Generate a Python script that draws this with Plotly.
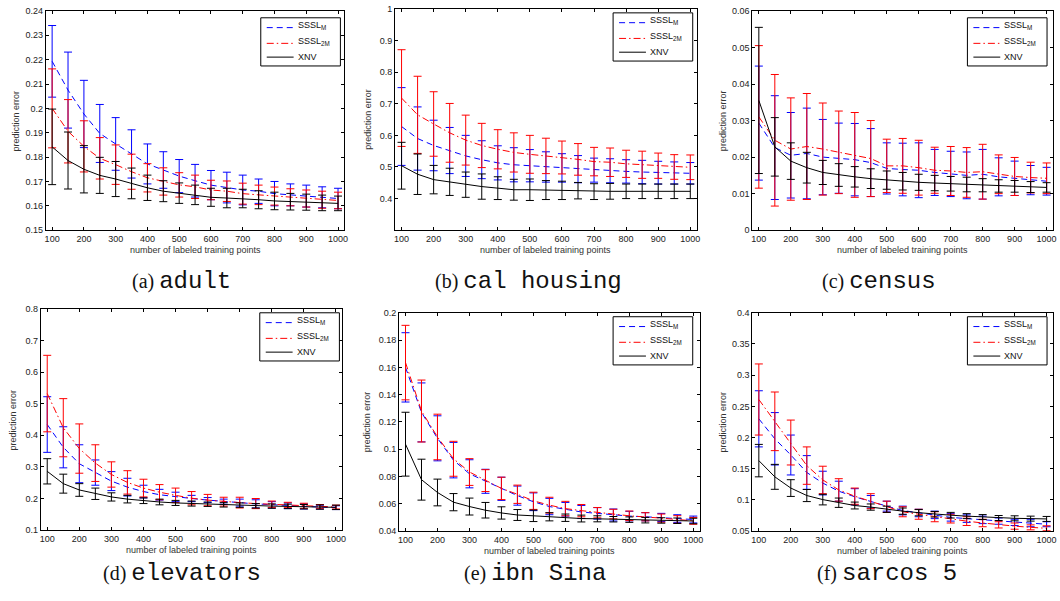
import plotly.graph_objects as go

# ---------------- data ----------------
n_labeled = [100, 150, 200, 250, 300, 350, 400, 450, 500, 550, 600, 650, 700, 750, 800, 850, 900, 950, 1000]
x_tick_vals = [100, 200, 300, 400, 500, 600, 700, 800, 900, 1000]
x_tick_text = ["100", "200", "300", "400", "500", "600", "700", "800", "900", "1000"]

series_names = ["SSSL<sub>M</sub>", "SSSL<sub>2M</sub>", "XNV"]

# (a) adult
adult_sssl_m = [0.2193, 0.2075, 0.1977, 0.1897, 0.1854, 0.1813, 0.1772, 0.1747, 0.1722, 0.1703, 0.1685, 0.1675, 0.1665, 0.1660, 0.1650, 0.1645, 0.1640, 0.1635, 0.1630]
adult_sssl_m_err = [0.0147, 0.0156, 0.0138, 0.0119, 0.0108, 0.0099, 0.0082, 0.0075, 0.0068, 0.0067, 0.0060, 0.0063, 0.0061, 0.0050, 0.0050, 0.0045, 0.0045, 0.0043, 0.0042]
adult_sssl_2m = [0.2000, 0.1906, 0.1844, 0.1795, 0.1769, 0.1740, 0.1715, 0.1700, 0.1686, 0.1678, 0.1665, 0.1660, 0.1650, 0.1645, 0.1640, 0.1635, 0.1630, 0.1625, 0.1622]
adult_sssl_2m_err = [0.0162, 0.0130, 0.0105, 0.0085, 0.0081, 0.0072, 0.0058, 0.0056, 0.0050, 0.0048, 0.0040, 0.0042, 0.0043, 0.0040, 0.0037, 0.0035, 0.0035, 0.0035, 0.0034]
adult_xnv = [0.1842, 0.1786, 0.1750, 0.1725, 0.1710, 0.1692, 0.1674, 0.1660, 0.1652, 0.1645, 0.1635, 0.1632, 0.1630, 0.1625, 0.1620, 0.1617, 0.1615, 0.1612, 0.1610]
adult_xnv_err = [0.0155, 0.0117, 0.0097, 0.0074, 0.0072, 0.0063, 0.0052, 0.0043, 0.0042, 0.0040, 0.0037, 0.0040, 0.0038, 0.0037, 0.0036, 0.0034, 0.0033, 0.0032, 0.0030]
adult_y_ticks = [0.15, 0.16, 0.17, 0.18, 0.19, 0.20, 0.21, 0.22, 0.23, 0.24]
adult_y_text = ["0.15", "0.16", "0.17", "0.18", "0.19", "0.2", "0.21", "0.22", "0.23", "0.24"]

# (b) cal housing
cal_sssl_m = [0.628, 0.590, 0.568, 0.552, 0.535, 0.523, 0.513, 0.507, 0.504, 0.500, 0.497, 0.493, 0.490, 0.488, 0.486, 0.484, 0.482, 0.481, 0.480]
cal_sssl_m_err = [0.123, 0.100, 0.080, 0.073, 0.065, 0.060, 0.054, 0.054, 0.051, 0.048, 0.045, 0.043, 0.038, 0.038, 0.037, 0.037, 0.036, 0.035, 0.034]
cal_sssl_2m = [0.718, 0.665, 0.636, 0.608, 0.585, 0.568, 0.556, 0.546, 0.540, 0.535, 0.530, 0.524, 0.517, 0.515, 0.510, 0.507, 0.504, 0.500, 0.499]
cal_sssl_2m_err = [0.153, 0.122, 0.102, 0.093, 0.079, 0.070, 0.062, 0.062, 0.060, 0.056, 0.052, 0.050, 0.045, 0.045, 0.043, 0.043, 0.040, 0.039, 0.039]
cal_xnv = [0.504, 0.477, 0.460, 0.453, 0.444, 0.438, 0.433, 0.428, 0.428, 0.427, 0.426, 0.425, 0.422, 0.423, 0.423, 0.423, 0.423, 0.423, 0.423]
cal_xnv_err = [0.074, 0.064, 0.045, 0.043, 0.040, 0.040, 0.036, 0.033, 0.034, 0.030, 0.029, 0.026, 0.025, 0.025, 0.023, 0.023, 0.023, 0.023, 0.023]
cal_y_ticks = [0.4, 0.5, 0.6, 0.7, 0.8, 0.9, 1.0]
cal_y_text = ["0.4", "0.5", "0.6", "0.7", "0.8", "0.9", "1"]

# (c) census
census_sssl_m = [0.0293, 0.0226, 0.0205, 0.0210, 0.0200, 0.0197, 0.0193, 0.0185, 0.0169, 0.0166, 0.0164, 0.0158, 0.0154, 0.0150, 0.0153, 0.0146, 0.0142, 0.0137, 0.0134]
census_sssl_m_err = [0.0156, 0.0142, 0.0117, 0.0124, 0.0103, 0.0096, 0.0099, 0.0093, 0.0070, 0.0072, 0.0075, 0.0063, 0.0062, 0.0064, 0.0068, 0.0052, 0.0047, 0.0040, 0.0038]
census_sssl_2m = [0.0310, 0.0246, 0.0222, 0.0229, 0.0222, 0.0213, 0.0206, 0.0196, 0.0176, 0.0176, 0.0171, 0.0164, 0.0162, 0.0158, 0.0160, 0.0153, 0.0147, 0.0144, 0.0142]
census_sssl_2m_err = [0.0195, 0.0180, 0.0140, 0.0145, 0.0126, 0.0113, 0.0116, 0.0104, 0.0073, 0.0075, 0.0075, 0.0063, 0.0067, 0.0068, 0.0075, 0.0053, 0.0052, 0.0042, 0.0042]
census_xnv = [0.0355, 0.0228, 0.0189, 0.0171, 0.0158, 0.0151, 0.0146, 0.0141, 0.0137, 0.0134, 0.0131, 0.0129, 0.0127, 0.0125, 0.0123, 0.0121, 0.0120, 0.0118, 0.0117]
census_xnv_err = [0.0200, 0.0080, 0.0050, 0.0042, 0.0033, 0.0031, 0.0028, 0.0027, 0.0025, 0.0024, 0.0022, 0.0021, 0.0020, 0.0020, 0.0018, 0.0017, 0.0016, 0.0015, 0.0013]
census_y_ticks = [0.0, 0.01, 0.02, 0.03, 0.04, 0.05, 0.06]
census_y_text = ["0", "0.01", "0.02", "0.03", "0.04", "0.05", "0.06"]

# (d) elevators
elev_sssl_m = [0.434, 0.362, 0.310, 0.282, 0.255, 0.236, 0.222, 0.212, 0.205, 0.200, 0.195, 0.190, 0.187, 0.183, 0.180, 0.177, 0.175, 0.173, 0.171]
elev_sssl_m_err = [0.088, 0.065, 0.060, 0.040, 0.030, 0.028, 0.020, 0.017, 0.015, 0.010, 0.008, 0.008, 0.011, 0.013, 0.010, 0.009, 0.008, 0.006, 0.006]
elev_sssl_2m = [0.532, 0.424, 0.358, 0.312, 0.276, 0.251, 0.233, 0.220, 0.210, 0.201, 0.195, 0.190, 0.187, 0.184, 0.182, 0.180, 0.177, 0.175, 0.173]
elev_sssl_2m_err = [0.121, 0.092, 0.078, 0.058, 0.040, 0.037, 0.028, 0.024, 0.023, 0.021, 0.018, 0.014, 0.017, 0.016, 0.010, 0.008, 0.008, 0.006, 0.006]
elev_xnv = [0.286, 0.247, 0.227, 0.215, 0.205, 0.198, 0.193, 0.189, 0.186, 0.184, 0.182, 0.180, 0.179, 0.177, 0.176, 0.175, 0.174, 0.173, 0.172]
elev_xnv_err = [0.040, 0.030, 0.020, 0.018, 0.013, 0.012, 0.009, 0.009, 0.008, 0.008, 0.007, 0.007, 0.007, 0.007, 0.007, 0.007, 0.007, 0.007, 0.007]
elev_y_ticks = [0.1, 0.2, 0.3, 0.4, 0.5, 0.6, 0.7, 0.8]
elev_y_text = ["0.1", "0.2", "0.3", "0.4", "0.5", "0.6", "0.7", "0.8"]

# (e) ibn Sina
ibn_sssl_m = [0.160, 0.127, 0.108, 0.092, 0.082, 0.0765, 0.071, 0.066, 0.0615, 0.058, 0.056, 0.054, 0.053, 0.0518, 0.051, 0.0505, 0.050, 0.0492, 0.0485]
ibn_sssl_m_err = [0.0254, 0.0216, 0.0165, 0.0130, 0.0103, 0.0088, 0.0085, 0.0070, 0.0065, 0.0060, 0.0050, 0.0048, 0.0042, 0.0044, 0.0035, 0.0030, 0.0030, 0.0028, 0.0025]
ibn_sssl_2m = [0.1635, 0.128, 0.109, 0.093, 0.0833, 0.077, 0.0713, 0.067, 0.0622, 0.059, 0.0565, 0.055, 0.0535, 0.0525, 0.0512, 0.0505, 0.0495, 0.0485, 0.0475]
ibn_sssl_2m_err = [0.0273, 0.0227, 0.0167, 0.0128, 0.0098, 0.0080, 0.0082, 0.0067, 0.0063, 0.0058, 0.0053, 0.0045, 0.0038, 0.0035, 0.0035, 0.0030, 0.0030, 0.0028, 0.0025]
ibn_xnv = [0.1037, 0.0777, 0.0683, 0.0612, 0.058, 0.0553, 0.0533, 0.0518, 0.0512, 0.0505, 0.0498, 0.0492, 0.049, 0.0487, 0.0484, 0.048, 0.0478, 0.0476, 0.0474]
ibn_xnv_err = [0.0234, 0.0150, 0.0098, 0.0063, 0.0062, 0.0057, 0.0045, 0.0040, 0.0042, 0.0030, 0.0027, 0.0025, 0.0022, 0.0020, 0.0020, 0.0020, 0.0020, 0.0020, 0.0020]
ibn_y_ticks = [0.04, 0.06, 0.08, 0.10, 0.12, 0.14, 0.16, 0.18, 0.20]
ibn_y_text = ["0.04", "0.06", "0.08", "0.1", "0.12", "0.14", "0.16", "0.18", "0.2"]

# (f) sarcos 5
sarcos_sssl_m = [0.230, 0.198, 0.172, 0.144, 0.127, 0.114, 0.105, 0.097, 0.090, 0.083, 0.079, 0.076, 0.072, 0.070, 0.068, 0.066, 0.064, 0.063, 0.061]
sarcos_sssl_m_err = [0.045, 0.042, 0.032, 0.027, 0.019, 0.016, 0.013, 0.010, 0.008, 0.007, 0.006, 0.006, 0.006, 0.006, 0.006, 0.005, 0.005, 0.006, 0.004]
sarcos_sssl_2m = [0.261, 0.226, 0.192, 0.155, 0.132, 0.116, 0.106, 0.098, 0.089, 0.081, 0.077, 0.073, 0.070, 0.066, 0.063, 0.060, 0.058, 0.056, 0.0545]
sarcos_sssl_2m_err = [0.057, 0.047, 0.036, 0.030, 0.022, 0.018, 0.013, 0.012, 0.009, 0.008, 0.008, 0.008, 0.007, 0.007, 0.006, 0.005, 0.005, 0.004, 0.004]
sarcos_xnv = [0.163, 0.137, 0.119, 0.107, 0.1005, 0.0955, 0.091, 0.0885, 0.085, 0.082, 0.0795, 0.077, 0.0755, 0.074, 0.0725, 0.071, 0.0705, 0.070, 0.0695]
sarcos_xnv_err = [0.026, 0.020, 0.0134, 0.0097, 0.0085, 0.0075, 0.0055, 0.005, 0.005, 0.005, 0.005, 0.0045, 0.0045, 0.004, 0.004, 0.004, 0.004, 0.004, 0.004]
sarcos_y_ticks = [0.05, 0.10, 0.15, 0.20, 0.25, 0.30, 0.35, 0.40]
sarcos_y_text = ["0.05", "0.1", "0.15", "0.2", "0.25", "0.3", "0.35", "0.4"]

panel_letters = ["(a)", "(b)", "(c)", "(d)", "(e)", "(f)"]
panel_names = ["adult", "cal housing", "census", "elevators", "ibn Sina", "sarcos 5"]

# ---------------- layout geometry (pixels) ----------------
W, H = 1060, 601
# plot area boxes: left, right, top, bottom
boxes = [
    (45, 345, 6, 229),
    (396, 699, 4, 229),
    (755, 1057, 6, 229),
    (40, 343, 309, 534),
    (400, 702, 313, 535),
    (755, 1057, 313, 535),
]
y_ranges = [(0.15, 0.24), (0.3, 1.0), (0.0, 0.06), (0.1, 0.8), (0.04, 0.2), (0.05, 0.4)]
legend_boxes = [(341, 13), (695, 8), (1051, 13), (340, 313), (695, 317), (1051, 317)]  # right, top
caption_pos = [(181, 281), (530, 281), (882, 281), (182, 578), (537, 578), (890, 578)]
ytitle_x = [15, 368, 725, 13, 368, 725]
LEG_W, LEG_H = 80, 49
leg_line_dy = [10, 26, 40]
leg_text_dy = [8, 24, 40]

panels = [
    (adult_sssl_m, adult_sssl_m_err, adult_sssl_2m, adult_sssl_2m_err, adult_xnv, adult_xnv_err, adult_y_ticks, adult_y_text),
    (cal_sssl_m, cal_sssl_m_err, cal_sssl_2m, cal_sssl_2m_err, cal_xnv, cal_xnv_err, cal_y_ticks, cal_y_text),
    (census_sssl_m, census_sssl_m_err, census_sssl_2m, census_sssl_2m_err, census_xnv, census_xnv_err, census_y_ticks, census_y_text),
    (elev_sssl_m, elev_sssl_m_err, elev_sssl_2m, elev_sssl_2m_err, elev_xnv, elev_xnv_err, elev_y_ticks, elev_y_text),
    (ibn_sssl_m, ibn_sssl_m_err, ibn_sssl_2m, ibn_sssl_2m_err, ibn_xnv, ibn_xnv_err, ibn_y_ticks, ibn_y_text),
    (sarcos_sssl_m, sarcos_sssl_m_err, sarcos_sssl_2m, sarcos_sssl_2m_err, sarcos_xnv, sarcos_xnv_err, sarcos_y_ticks, sarcos_y_text),
]

colors = ["#0000ff", "#ff0000", "#000000"]
dashes = ["6px,4px", "7px,3px,1.5px,3px", "solid"]

SANS = "Liberation Sans, Arial, Helvetica, sans-serif"


def px(xp):
    return xp / W


def py(yp):
    return 1 - yp / H


fig = go.Figure()
layout = dict(
    width=W, height=H,
    margin=dict(l=0, r=0, t=0, b=0),
    paper_bgcolor="white", plot_bgcolor="white",
    showlegend=False,
    font=dict(family=SANS, size=9, color="#222"),
)
annotations = []
shapes = []

for i, p in enumerate(panels):
    k = i + 1
    xs = "" if k == 1 else str(k)
    means = [p[0], p[2], p[4]]
    errs = [p[1], p[3], p[5]]
    for j in range(3):
        fig.add_trace(go.Scatter(
            x=n_labeled, y=means[j], mode="lines", name=series_names[j],
            line=dict(color=colors[j], width=1, dash=dashes[j]),
            error_y=dict(type="data", array=errs[j], visible=True,
                         color=colors[j], thickness=1, width=4),
            xaxis="x" + xs, yaxis="y" + xs,
        ))
    l, r, t, b = boxes[i]
    layout["xaxis" + xs] = dict(
        domain=[px(l), px(r)], anchor="y" + xs, range=[80, 1020],
        tickvals=x_tick_vals, ticktext=x_tick_text,
        ticks="inside", ticklen=3, tickwidth=1, tickcolor="black",
        showline=True, linecolor="black", linewidth=1, mirror="ticks",
        showgrid=False, zeroline=False,
        tickfont=dict(family=SANS, size=9, color="#222"),
    )
    layout["yaxis" + xs] = dict(
        domain=[py(b), py(t)], anchor="x" + xs, range=list(y_ranges[i]),
        tickvals=p[6], ticktext=p[7],
        ticks="inside", ticklen=3, tickwidth=1, tickcolor="black",
        showline=True, linecolor="black", linewidth=1, mirror="ticks",
        showgrid=False, zeroline=False,
        tickfont=dict(family=SANS, size=9, color="#222"),
    )
    # legend box (drawn in paper space)
    lr, lt = legend_boxes[i]
    ll = lr - LEG_W
    shapes.append(dict(type="rect", xref="paper", yref="paper", layer="above",
                       x0=px(ll), x1=px(lr), y0=py(lt + LEG_H), y1=py(lt),
                       line=dict(color="black", width=1), fillcolor="white"))
    for j in range(3):
        yy = lt + leg_line_dy[j]
        shapes.append(dict(type="line", xref="paper", yref="paper", layer="above",
                           x0=px(ll + 6), x1=px(ll + 33), y0=py(yy), y1=py(yy),
                           line=dict(color=colors[j], width=1, dash=dashes[j])))
        annotations.append(dict(
            x=px(ll + 35), y=py(lt + leg_text_dy[j]), xref="paper", yref="paper",
            text=series_names[j], showarrow=False, xanchor="left", yanchor="middle",
            font=dict(family=SANS, size=9, color="#111"),
        ))
    # axis titles
    annotations.append(dict(
        x=px((l + r) / 2), y=py(b + 20), xref="paper", yref="paper",
        text="number of labeled training points", showarrow=False,
        font=dict(family=SANS, size=9, color="#333"), xanchor="center", yanchor="middle",
    ))
    annotations.append(dict(
        x=px(ytitle_x[i]), y=py((t + b) / 2), xref="paper", yref="paper",
        text="prediction error", showarrow=False, textangle=-90,
        font=dict(family=SANS, size=9, color="#333"), xanchor="center", yanchor="middle",
    ))
    cx, cy = caption_pos[i]
    annotations.append(dict(
        x=px(cx), y=py(cy), xref="paper", yref="paper",
        text=panel_letters[i] + " <span style='font-family:Liberation Mono, Courier New, monospace;font-size:24px'>"
             + panel_names[i] + "</span>",
        showarrow=False, font=dict(family="Liberation Serif, Times New Roman, serif", size=20, color="#111"),
        xanchor="center", yanchor="middle",
    ))

layout["annotations"] = annotations
layout["shapes"] = shapes
fig.update_layout(**layout)
fig.write_html("out.html", config={"displayModeBar": False},
               post_script="document.body.style.margin='0px';document.body.style.padding='0px';")
